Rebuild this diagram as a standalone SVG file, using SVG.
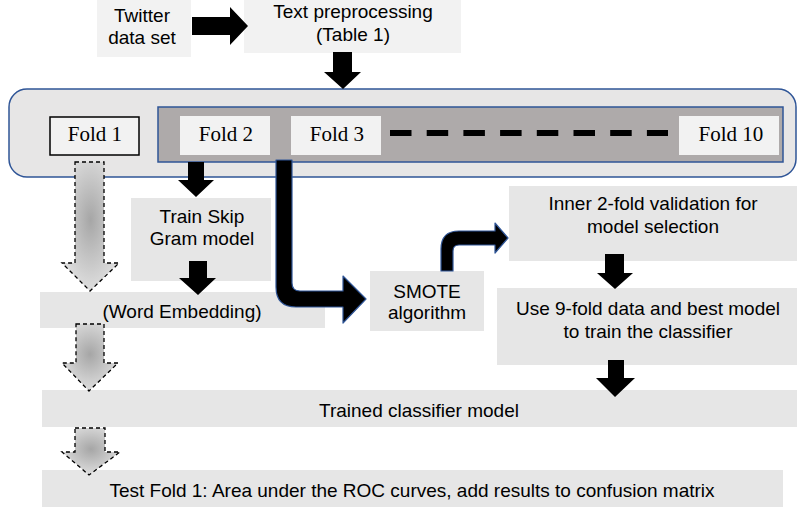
<svg xmlns="http://www.w3.org/2000/svg" width="797" height="510" viewBox="0 0 797 510">
<style>
.sans{font-family:"Liberation Sans",Arial,sans-serif;font-size:19px;fill:#000;text-anchor:middle}
.serif{font-family:"Liberation Serif","Times New Roman",serif;font-size:21px;fill:#000;text-anchor:middle}
.light{fill:#f2f2f2}
.box{fill:#e6e6e6}
.blk{fill:#000}
.bent{fill:#000;stroke:#2f5597;stroke-width:1.2;stroke-linejoin:round}
.dash{fill:url(#gg);stroke:#000;stroke-width:1.3;stroke-dasharray:4 3}
</style>
<defs>
<radialGradient id="gg" cx="0.5" cy="0.45" r="0.6">
<stop offset="0" stop-color="#a6a6a6"/>
<stop offset="1" stop-color="#e3e3e3"/>
</radialGradient>
</defs>
<g id="container">
<rect x="9" y="89" width="787" height="88" rx="18" fill="#e7e6e6" stroke="#2f5597" stroke-width="1.5"/>
<rect x="158" y="107" width="625" height="55" fill="#aeaaaa" stroke="#2f5597" stroke-width="1.5"/>
<line x1="390" y1="133" x2="668" y2="133" stroke="#000" stroke-width="6" stroke-dasharray="21.5 15.2"/>
</g>
<g id="fold1"><rect x="50" y="117" width="89" height="38" fill="#f2f2f2" stroke="#000" stroke-width="1.5"/><text class="serif" x="95" y="141">Fold 1</text></g>
<g id="fold2"><rect x="180" y="116" width="90" height="39" class="light"/><text class="serif" x="226" y="141">Fold 2</text></g>
<g id="fold3"><rect x="291" y="116" width="90" height="39" class="light"/><text class="serif" x="337" y="141">Fold 3</text></g>
<g id="fold10"><rect x="679" y="116" width="100" height="39" class="light"/><text class="serif" x="731" y="141">Fold 10</text></g>
<g id="twitter"><rect x="97" y="0" width="94" height="57" class="light"/><text class="sans" x="142" y="22">Twitter</text><text class="sans" x="142" y="44">data set</text></g>
<g id="preprocessing"><rect x="244" y="0" width="217" height="53" class="light"/><text class="sans" x="353" y="18">Text preprocessing</text><text class="sans" x="353" y="41">(Table 1)</text></g>
<g id="skipgram"><rect x="131" y="198" width="140" height="83" class="box"/><text class="sans" x="202" y="223">Train Skip</text><text class="sans" x="202" y="245">Gram model</text></g>
<g id="embedding"><rect x="40" y="292" width="285" height="36" class="box"/><text class="sans" x="182" y="318">(Word Embedding)</text></g>
<g id="smote"><rect x="370" y="271" width="114" height="60" class="box"/><text class="sans" x="427" y="298">SMOTE</text><text class="sans" x="427" y="319">algorithm</text></g>
<g id="inner"><rect x="509" y="186" width="288" height="75" class="box"/><text class="sans" x="653" y="210">Inner 2-fold validation for</text><text class="sans" x="653" y="233">model selection</text></g>
<g id="train9"><rect x="497" y="288" width="300" height="77" class="box"/><text class="sans" x="648" y="315">Use 9-fold data and best model</text><text class="sans" x="648" y="338">to train the classifier</text></g>
<g id="trained"><rect x="42" y="390" width="755" height="37" class="box"/><text class="sans" x="419" y="417">Trained classifier model</text></g>
<g id="test"><rect x="42" y="470" width="741" height="37" class="box"/><text class="sans" x="412" y="497">Test Fold 1: Area under the ROC curves, add results to confusion matrix</text></g>
<g id="connectors">
<polygon class="blk" points="192,17 230,17 230,7 248,26 230,45 230,35 192,35"/>
<polygon class="blk" points="333,52 352,52 352,72 361,72 343,89 324,72 333,72"/>
<polygon class="blk" points="188,162 204,162 204,180 214,180 196,197 178,180 188,180"/>
<polygon class="blk" points="189,261 207,261 207,278 216,278 198,295 179,278 189,278"/>
<polygon class="blk" points="605,254 624,254 624,273 633,273 615,289 597,273 605,273"/>
<polygon class="blk" points="608,360 624,360 624,378 635,378 615,397 596,378 608,378"/>
<path class="bent" d="M276,160 L292,160 L292,283 Q292,291 300,291 L343,291 L343,276 L366,299 L343,323 L343,307 L296,307 Q276,307 276,287 Z"/>
<path class="bent" d="M441,271 L441,249 Q441,231 459,231 L495,231 L495,223 L508,238 L495,253 L495,245 L459,245 Q453,245 453,251 L453,271 Z"/>
<polygon class="dash" points="75,162 104,162 104,263 119,263 90,291 62,263 75,263"/>
<polygon class="dash" points="76,324 104,324 104,363 118,363 89,391 62,363 76,363"/>
<polygon class="dash" points="75,428 105,428 105,452 120,452 89,475 62,452 75,452"/>
</g>
</svg>
